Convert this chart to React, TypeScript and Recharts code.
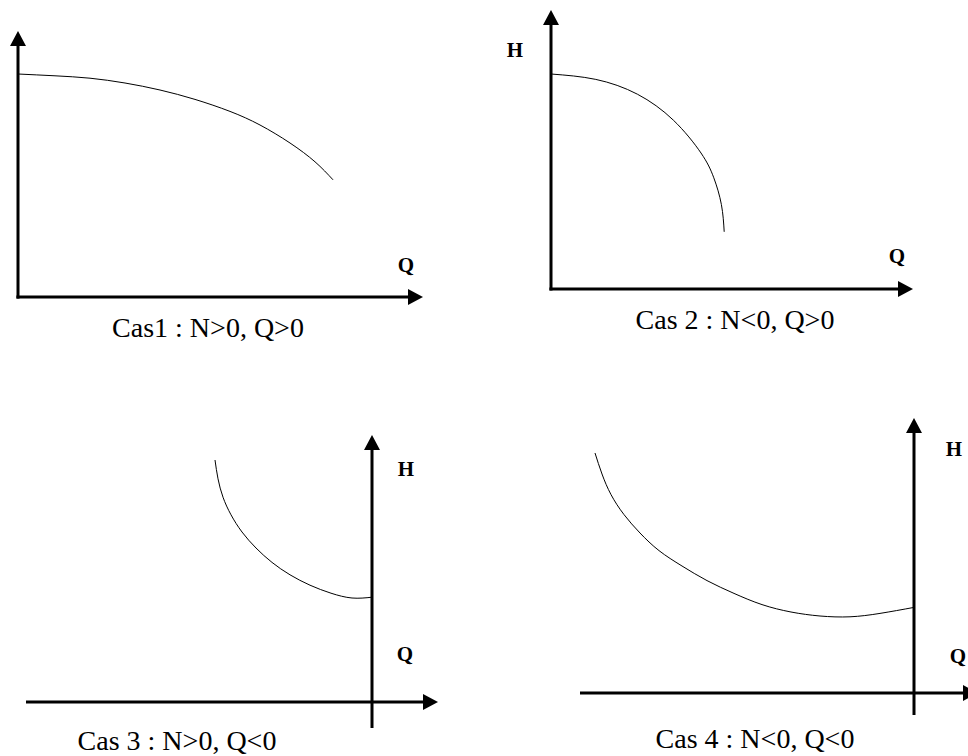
import React from 'react';
import { LineChart, Line, XAxis, YAxis, ReferenceLine, ReferenceDot } from 'recharts';

// Pump characteristic H(Q) for the four operating quadrants
const cas1Q = [0, 0.925, 1.8, 2.675, 3.55, 4.425, 5.3, 6.05, 6.8, 7.425, 7.875];
const cas1H = [5.575, 5.53, 5.47, 5.35, 5.175, 4.94, 4.64, 4.3, 3.85, 3.38, 2.93];

const cas2Q = [0, 1.12, 2.16, 3.06, 3.75, 4.07, 4.26, 4.33];
const cas2H = [5.375, 5.24, 4.87, 4.22, 3.4, 2.78, 2.11, 1.43];

const cas3Q = [-3.925, -3.85, -3.725, -3.525, -3.25, -2.9, -2.5, -2.05, -1.55, -1.025, -0.5, 0];
const cas3H = [6.05, 5.58, 5.12, 4.68, 4.25, 3.85, 3.49, 3.18, 2.92, 2.72, 2.6, 2.62];

const cas4Q = [-7.975, -7.8, -7.575, -7.25, -6.85, -6.375, -5.8, -5.175, -4.5, -3.8, -3.075, -2.35, -1.6, -0.85, 0];
const cas4H = [6.0, 5.475, 4.96, 4.46, 4.0, 3.56, 3.175, 2.81, 2.49, 2.21, 2.025, 1.925, 1.905, 1.99, 2.14];

const captions = ['Cas1 : N>0, Q>0', 'Cas 2 : N<0, Q>0', 'Cas 3 : N>0, Q<0', 'Cas 4 : N<0, Q<0'];

const PX_PER_UNIT = 40;
const ARROW_LEN = 15;
const ARROW_HALF = 8;

type Panel = {
  q: number[];
  h: number[];
  origin: [number, number];
  qDomain: [number, number];
  hDomain: [number, number];
  qAxis: [number, number]; // start, arrow tip
  hAxis: [number, number]; // start, arrow tip
};

const panels: Panel[] = [
  { q: cas1Q, h: cas1H, origin: [18, 297], qDomain: [-0.5, 10.5], hDomain: [-1, 7], qAxis: [-0.04, 10.125], hAxis: [-0.04, 6.65] },
  { q: cas2Q, h: cas2H, origin: [551, 289], qDomain: [-0.5, 9.5], hDomain: [-1, 7.25], qAxis: [-0.04, 9.05], hAxis: [-0.04, 6.975] },
  { q: cas3Q, h: cas3H, origin: [372, 702], qDomain: [-9, 2], hDomain: [-1, 7], qAxis: [-8.65, 1.65], hAxis: [-0.65, 6.675] },
  { q: cas4Q, h: cas4H, origin: [914, 693], qDomain: [-8.5, 2], hDomain: [-1, 7.25], qAxis: [-8.35, 1.6], hAxis: [-0.55, 6.875] },
];

// Axis labels and captions: [text, x, baseline, size, bold]
const labels: [string, number, number, number, boolean][] = [
  ['Q', 406, 272, 21, true],
  ['H', 515, 57, 21, true],
  ['Q', 897, 263, 21, true],
  ['H', 406, 476, 21, true],
  ['Q', 405, 661, 21, true],
  ['H', 954, 456, 21, true],
  ['Q', 958, 663, 21, true],
  [captions[0], 208, 337, 28, false],
  [captions[1], 735, 329, 28, false],
  [captions[2], 177, 750, 28, false],
  [captions[3], 755, 748, 28, false],
];

const UpArrow = (p: any) => (
  <polygon
    points={`${p.cx},${p.cy} ${p.cx - ARROW_HALF},${p.cy + ARROW_LEN} ${p.cx + ARROW_HALF},${p.cy + ARROW_LEN}`}
    fill="#000"
  />
);

const RightArrow = (p: any) => (
  <polygon
    points={`${p.cx},${p.cy} ${p.cx - ARROW_LEN},${p.cy - ARROW_HALF} ${p.cx - ARROW_LEN},${p.cy + ARROW_HALF}`}
    fill="#000"
  />
);

function PanelChart({ panel }: { panel: Panel }) {
  const [ox, oy] = panel.origin;
  const left = ox + panel.qDomain[0] * PX_PER_UNIT;
  const top = oy - panel.hDomain[1] * PX_PER_UNIT;
  const width = (panel.qDomain[1] - panel.qDomain[0]) * PX_PER_UNIT;
  const height = (panel.hDomain[1] - panel.hDomain[0]) * PX_PER_UNIT;
  const data = panel.q.map((q, i) => ({ q, h: panel.h[i] }));
  const back = (ARROW_LEN - 2) / PX_PER_UNIT;

  return (
    <div style={{ position: 'absolute', left, top, width, height }}>
      <LineChart width={width} height={height} data={data} margin={{ top: 0, right: 0, bottom: 0, left: 0 }}>
        <XAxis type="number" dataKey="q" domain={panel.qDomain} hide allowDataOverflow />
        <YAxis type="number" dataKey="h" domain={panel.hDomain} hide allowDataOverflow />
        <ReferenceLine
          segment={[{ x: panel.qAxis[0], y: 0 }, { x: panel.qAxis[1] - back, y: 0 }]}
          stroke="#000"
          strokeWidth={3}
        />
        <ReferenceLine
          segment={[{ x: 0, y: panel.hAxis[0] }, { x: 0, y: panel.hAxis[1] - back }]}
          stroke="#000"
          strokeWidth={3}
        />
        <ReferenceDot x={panel.qAxis[1]} y={0} r={0} shape={RightArrow} ifOverflow="visible" />
        <ReferenceDot x={0} y={panel.hAxis[1]} r={0} shape={UpArrow} ifOverflow="visible" />
        <Line
          type="natural"
          dataKey="h"
          stroke="#000"
          strokeWidth={1}
          dot={false}
          activeDot={false}
          isAnimationActive={false}
        />
      </LineChart>
    </div>
  );
}

export default function App() {
  return (
    <div
      style={{
        position: 'absolute',
        left: 0,
        top: 0,
        width: 968,
        height: 756,
        overflow: 'hidden',
        background: '#fff',
      }}
    >
      {panels.map((p, i) => (
        <PanelChart key={i} panel={p} />
      ))}
      <svg width={968} height={756} style={{ position: 'absolute', left: 0, top: 0, pointerEvents: 'none' }}>
        {labels.map(([t, x, y, size, bold], i) => (
          <text
            key={i}
            x={x}
            y={y}
            textAnchor="middle"
            fontFamily="'Liberation Serif', 'Times New Roman', serif"
            fontSize={size}
            fontWeight={bold ? 'bold' : 'normal'}
            fill="#000"
          >
            {t}
          </text>
        ))}
      </svg>
    </div>
  );
}
